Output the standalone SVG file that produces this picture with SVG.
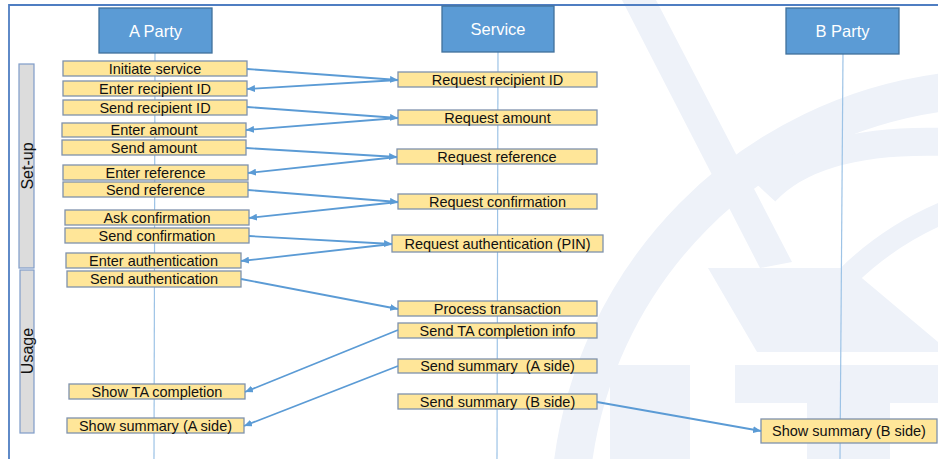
<svg xmlns="http://www.w3.org/2000/svg" width="938" height="459" viewBox="0 0 938 459">
  <style>
    .wm { fill: #EEF2F9; stroke: none; }
    .wms { fill: none; stroke: #EEF2F9; }
    .frame { fill: none; stroke: #4F7EC2; stroke-width: 1.8; }
    .head rect { fill: #5B9BD5; stroke: #41719C; stroke-width: 1.3; }
    .head text { fill: #FFFFFF; font-family: "Liberation Sans", Arial, sans-serif; font-size: 16.5px; text-anchor: middle; }
    .life { stroke: #9DC3E6; stroke-width: 1.2; fill: none; }
    .phase rect { fill: #DCDCDC; stroke: #7F9CC8; stroke-width: 1.2; }
    .phase text { fill: #111111; font-family: "Liberation Sans", Arial, sans-serif; font-size: 16px; text-anchor: middle; dominant-baseline: central; }
    .step rect { fill: #FFE699; stroke: #7F92AD; stroke-width: 1.3; }
    .step text { fill: #111111; font-family: "Liberation Sans", Arial, sans-serif; font-size: 14.5px; text-anchor: middle; }
    .msg line { stroke: #5B9BD5; stroke-width: 1.8; marker-end: url(#arrow); }
  </style>
  <defs>
    <marker id="arrow" markerUnits="userSpaceOnUse" markerWidth="8" markerHeight="7" refX="8" refY="3.5" orient="auto">
      <path d="M0,0 L8,3.5 L0,7 z" fill="#5B9BD5"/>
    </marker>
  </defs>

  <rect x="0" y="0" width="938" height="459" fill="#FFFFFF"/>

  <!-- faint background emblem -->
  <g id="emblem">
    <path class="wms" stroke-width="38" d="M 572 470 A 430 430 0 0 1 945 92"/>
    <path class="wms" stroke-width="28" d="M 765 192 Q 815 138 945 142"/>
    <path class="wms" stroke-width="22" d="M 945 212 Q 890 235 848 276"/>
    <polygon class="wm" points="622,0 656,0 792,262 760,268"/>
    <polygon class="wm" points="708,268 850,268 938,342 938,352 757,352"/>
    <rect class="wm" x="610" y="365" width="80" height="94"/>
    <rect class="wm" x="735" y="365" width="203" height="38"/>
    <rect class="wm" x="807" y="403" width="83" height="56"/>
  </g>

  <!-- outer frame -->
  <path class="frame" d="M 9 459 L 9 5 L 938 5"/>

  <!-- lifelines -->
  <g id="lifelines">
    <line class="life" x1="155" y1="53" x2="154" y2="459"/>
    <line class="life" x1="498" y1="52" x2="497" y2="459"/>
    <line class="life" x1="843" y1="54" x2="840" y2="459"/>
  </g>

  <!-- participants -->
  <g id="a-party" class="head"><rect x="99" y="8" width="113" height="45"/><text x="155.5" y="37">A Party</text></g>
  <g id="service" class="head"><rect x="442" y="6" width="112" height="46"/><text x="498" y="35">Service</text></g>
  <g id="b-party" class="head"><rect x="786" y="8" width="113" height="46"/><text x="842.5" y="37">B Party</text></g>

  <!-- phases -->
  <g id="phase-setup" class="phase"><rect x="19" y="64" width="15" height="204"/><text transform="translate(27 166) rotate(-90)">Set-up</text></g>
  <g id="phase-usage" class="phase"><rect x="20" y="270" width="14" height="163"/><text transform="translate(27.5 351) rotate(-90)">Usage</text></g>

  <!-- A party steps -->
  <g id="a1" class="step"><rect x="63" y="61" width="184" height="15"/><text x="155" y="73.5">Initiate service</text></g>
  <g id="a2" class="step"><rect x="63" y="81" width="184" height="15"/><text x="155" y="93.5">Enter recipient ID</text></g>
  <g id="a3" class="step"><rect x="63" y="100" width="184" height="15"/><text x="155" y="112.5">Send recipient ID</text></g>
  <g id="a4" class="step"><rect x="62" y="123" width="184" height="14"/><text x="154" y="135">Enter amount</text></g>
  <g id="a5" class="step"><rect x="62" y="140" width="184" height="15"/><text x="154" y="152.5">Send amount</text></g>
  <g id="a6" class="step"><rect x="63" y="165" width="185" height="15"/><text x="155.5" y="177.5">Enter reference</text></g>
  <g id="a7" class="step"><rect x="63" y="182" width="185" height="15"/><text x="155.5" y="194.5">Send reference</text></g>
  <g id="a8" class="step"><rect x="65" y="210" width="184" height="15"/><text x="157" y="222.5">Ask confirmation</text></g>
  <g id="a9" class="step"><rect x="65" y="228" width="184" height="15"/><text x="157" y="240.5">Send confirmation</text></g>
  <g id="a10" class="step"><rect x="66" y="253" width="175" height="15"/><text x="153.5" y="265.5">Enter authentication</text></g>
  <g id="a11" class="step"><rect x="67" y="271" width="174" height="16"/><text x="154" y="284">Send authentication</text></g>
  <g id="a12" class="step"><rect x="69" y="384" width="176" height="15"/><text x="157" y="396.5">Show TA completion</text></g>
  <g id="a13" class="step"><rect x="67" y="418" width="177" height="15"/><text x="155.5" y="430.5">Show summary (A side)</text></g>

  <!-- service steps -->
  <g id="s1" class="step"><rect x="398" y="72" width="199" height="15"/><text x="497.5" y="84.5">Request recipient ID</text></g>
  <g id="s2" class="step"><rect x="398" y="110" width="199" height="15"/><text x="497.5" y="122.5">Request amount</text></g>
  <g id="s3" class="step"><rect x="397" y="149" width="200" height="15"/><text x="497" y="161.5">Request reference</text></g>
  <g id="s4" class="step"><rect x="398" y="194" width="199" height="15"/><text x="497.5" y="206.5">Request confirmation</text></g>
  <g id="s5" class="step"><rect x="392" y="235" width="211" height="17"/><text x="497.5" y="248.5">Request authentication (PIN)</text></g>
  <g id="s6" class="step"><rect x="398" y="301" width="199" height="15"/><text x="497.5" y="313.5">Process transaction</text></g>
  <g id="s7" class="step"><rect x="398" y="323" width="199" height="15"/><text x="497.5" y="335.5">Send TA completion info</text></g>
  <g id="s8" class="step"><rect x="398" y="359" width="199" height="14"/><text x="497.5" y="371" xml:space="preserve">Send summary  (A side)</text></g>
  <g id="s9" class="step"><rect x="398" y="394" width="199" height="15"/><text x="497.5" y="406.5" xml:space="preserve">Send summary  (B side)</text></g>

  <!-- B party step -->
  <g id="b1" class="step"><rect x="761" y="419" width="176" height="24"/><text x="849" y="436">Show summary (B side)</text></g>

  <!-- messages -->
  <g id="connectors" class="msg">
    <line x1="247" y1="69" x2="398" y2="80"/>
    <line x1="398" y1="80" x2="247" y2="89"/>
    <line x1="247" y1="107" x2="398" y2="118"/>
    <line x1="398" y1="118" x2="246" y2="130"/>
    <line x1="246" y1="148" x2="397" y2="157"/>
    <line x1="397" y1="157" x2="248" y2="173"/>
    <line x1="248" y1="190" x2="398" y2="202"/>
    <line x1="398" y1="202" x2="249" y2="218"/>
    <line x1="249" y1="236" x2="392" y2="244"/>
    <line x1="392" y1="244" x2="241" y2="261"/>
    <line x1="241" y1="279" x2="398" y2="309"/>
    <line x1="398" y1="330" x2="245" y2="392"/>
    <line x1="398" y1="366" x2="244" y2="426"/>
    <line x1="597" y1="402" x2="761" y2="431"/>
  </g>
</svg>
